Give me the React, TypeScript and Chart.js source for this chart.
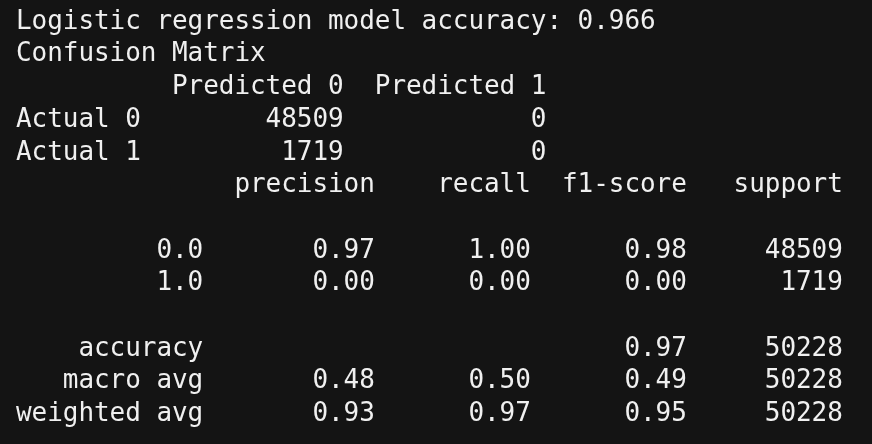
import { useEffect, useRef } from "react";
import Chart from "chart.js/auto";

const modelAccuracy = "0.966";
const matrixCols = ["Predicted 0", "Predicted 1"];
const matrixRows = ["Actual 0", "Actual 1"];
const matrixValues = [[48509, 0], [1719, 0]];
const reportHeaders = ["precision", "recall", "f1-score", "support"];
const classLabels = ["0.0", "1.0"];
const classPrecision = ["0.97", "0.00"];
const classRecall = ["1.00", "0.00"];
const classF1 = ["0.98", "0.00"];
const classSupport = ["48509", "1719"];
const accuracyRow = ["accuracy", "", "", "0.97", "50228"];
const avgLabels = ["macro avg", "weighted avg"];
const avgPrecision = ["0.48", "0.93"];
const avgRecall = ["0.50", "0.97"];
const avgF1 = ["0.49", "0.95"];
const avgSupport = ["50228", "50228"];

function buildLines(): string[] {
  const lines: string[] = [];
  lines.push(`Logistic regression model accuracy: ${modelAccuracy}`);
  lines.push("Confusion Matrix");
  lines.push(" ".repeat(8) + matrixCols.map((c) => c.padStart(13)).join(""));
  matrixRows.forEach((r, i) => {
    lines.push(r.padEnd(8) + matrixValues[i].map((v) => String(v).padStart(13)).join(""));
  });
  const row = (cells: string[]) =>
    cells[0].padStart(12) + " " + cells.slice(1).map((c) => c.padStart(10)).join("");
  lines.push(" ".repeat(13) + reportHeaders.map((h) => h.padStart(10)).join(""));
  lines.push("");
  classLabels.forEach((l, i) =>
    lines.push(row([l, classPrecision[i], classRecall[i], classF1[i], classSupport[i]]))
  );
  lines.push("");
  lines.push(row(accuracyRow));
  avgLabels.forEach((l, i) =>
    lines.push(row([l, avgPrecision[i], avgRecall[i], avgF1[i], avgSupport[i]]))
  );
  return lines;
}

export default function App() {
  const canvasRef = useRef<HTMLCanvasElement>(null);

  useEffect(() => {
    if (!canvasRef.current) return;
    const lines = buildLines();
    const terminalText = {
      id: "terminalText",
      beforeDraw(chart: Chart) {
        const { ctx, width, height } = chart;
        ctx.save();
        ctx.fillStyle = "#141414";
        ctx.fillRect(0, 0, width, height);
        ctx.fillStyle = "#f0f0f0";
        ctx.font = "26px 'DejaVu Sans Mono', monospace";
        ctx.textBaseline = "middle";
        const charW = 15.6;
        lines.forEach((line, i) => {
          const y = 22 + i * 32.7;
          for (let k = 0; k < line.length; k++) {
            if (line[k] !== " ") ctx.fillText(line[k], 16 + k * charW, y);
          }
        });
        ctx.restore();
      },
    };
    const chart = new Chart(canvasRef.current, {
      type: "bar",
      data: { labels: [], datasets: [] },
      options: {
        animation: false,
        responsive: false,
        plugins: { legend: { display: false }, tooltip: { enabled: false } },
        scales: { x: { display: false }, y: { display: false } },
      },
      plugins: [terminalText],
    });
    return () => chart.destroy();
  }, []);

  return (
    <div style={{ position: "fixed", left: 0, top: 0, width: 872, height: 444, background: "#141414" }}>
      <canvas ref={canvasRef} width={872} height={444} style={{ width: 872, height: 444 }} />
    </div>
  );
}
